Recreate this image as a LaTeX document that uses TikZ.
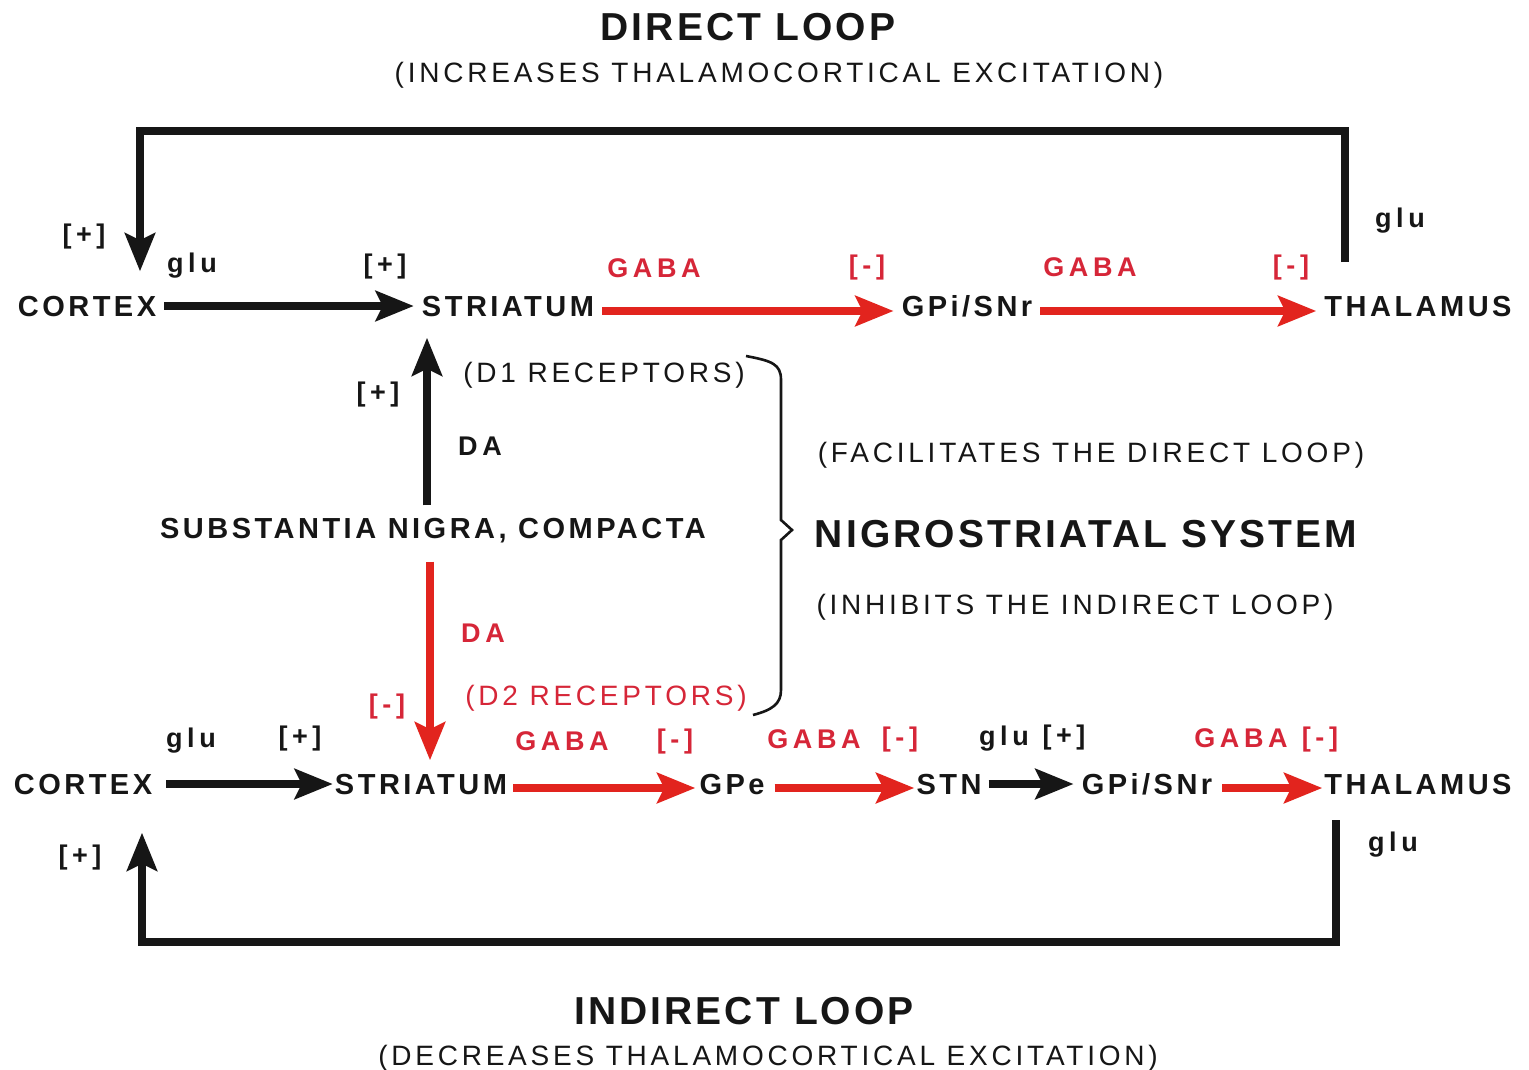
\documentclass[tikz,border=0pt]{standalone}
\usepackage{fontspec}
\setmainfont{Liberation Sans}
\newfontfamily\headfam[LetterSpace=8]{Liberation Sans}
\newfontfamily\remarkfam[LetterSpace=13.5]{Liberation Sans}
\newfontfamily\regionfam[LetterSpace=12]{Liberation Sans}
\newfontfamily\tagfam[LetterSpace=17]{Liberation Sans}
\usetikzlibrary{arrows.meta,calc}

\definecolor{ink}{RGB}{22,22,22}
\definecolor{pathred}{RGB}{226,36,30}
\definecolor{labred}{RGB}{214,38,56}

\tikzset{
  region/.style={inner sep=0pt, text height=21pt, text depth=0pt, text=ink,
    font=\regionfam\bfseries\fontsize{29}{31}\selectfont},
  tag/.style={inner sep=0pt, text height=19pt, text depth=0pt, text=ink,
    font=\tagfam\bfseries\fontsize{27}{29}\selectfont},
  redtag/.style={tag, text=labred},
  heading/.style={inner sep=0pt, text height=28pt, text depth=0pt, text=ink,
    font=\headfam\bfseries\fontsize{39}{42}\selectfont},
  remark/.style={inner sep=0pt, text height=20pt, text depth=0pt, text=ink,
    font=\remarkfam\fontsize{28}{30}\selectfont},
  redremark/.style={remark, text=labred},
  bigtip/.style={-{Stealth[length=38pt,width=30pt,inset=7pt]}},
  excite/.style={bigtip, draw=ink, line width=8pt, shorten <=8pt, shorten >=8pt},
  inhibit/.style={bigtip, draw=pathred, line width=8pt, shorten <=8pt, shorten >=8pt},
  loopline/.style={bigtip, draw=ink, line width=7.5pt, line join=miter}
}

\begin{document}
\begin{tikzpicture}[x=1pt,y=-1pt]
  \path[fill=white] (0,0) rectangle (1529,1070);
  \useasboundingbox (0,0) rectangle (1529,1070);

  % headings
  \node[heading] (dtitle) at (748,27) {DIRECT LOOP};
  \node[remark]  (dsub)   at (779,73) {(INCREASES THALAMOCORTICAL EXCITATION)};
  \node[heading] (ititle) at (744,1010) {INDIRECT LOOP};
  \node[remark]  (isub)   at (768,1055) {(DECREASES THALAMOCORTICAL EXCITATION)};

  % direct loop row
  \node[region] (cortex1) at (87,306)   {CORTEX};
  \node[region] (str1)    at (508,306)  {STRIATUM};
  \node[region] (gpi1)    at (967,306)  {GPi/SNr};
  \node[region] (thal1)   at (1418,306) {THALAMUS};

  \draw[excite]  (cortex1) -- (str1);
  \draw[inhibit] ([yshift=-5pt]str1.east) -- ([yshift=-5pt]gpi1.west);
  \draw[inhibit] ([yshift=-5pt]gpi1.east) -- ([yshift=-5pt]thal1.west);

  \node[tag]    (g1)  at (192,263)  {glu};
  \node[tag]    (p1)  at (385,264)  {[+]};
  \node[redtag] (a1)  at (654,268)  {GABA};
  \node[redtag] (m1)  at (867,265)  {[-]};
  \node[redtag] (a2)  at (1090,267) {GABA};
  \node[redtag] (m2)  at (1291,265) {[-]};

  % direct loop return path
  \coordinate (thalTap) at (1345,262);
  \coordinate (topLeft) at (140,131);
  \draw[loopline, shorten >=24pt] (thalTap) |- (topLeft) -- (topLeft |- cortex1.north);
  \node[tag] (g2) at (1400,218) {glu};
  \node[tag] (p2) at (84,234)   {[+]};

  % indirect loop row
  \node[region] (cortex2) at (83,784)   {CORTEX};
  \node[region] (str2)    at (421,784)  {STRIATUM};
  \node[region] (gpe)     at (732,784)  {GPe};
  \node[region] (stn)     at (949,784)  {STN};
  \node[region] (gpi2)    at (1147,784) {GPi/SNr};
  \node[region] (thal2)   at (1418,784) {THALAMUS};

  \draw[excite, shorten <=14pt, shorten >=2pt] (cortex2) -- (str2);
  \draw[inhibit, shorten <=6pt, shorten >=4pt]
    ([yshift=-4pt]str2.east) -- ([yshift=-4pt]gpe.west);
  \draw[inhibit, shorten <=10pt, shorten >=2pt]
    ([yshift=-4pt]gpe.east) -- ([yshift=-4pt]stn.west);
  \draw[excite, shorten <=7pt, shorten >=8pt] (stn) -- (gpi2);
  \draw[inhibit, shorten <=10pt, shorten >=2pt]
    ([yshift=-4pt]gpi2.east) -- ([yshift=-4pt]thal2.west);

  \node[tag]    (g3) at (191,738)  {glu};
  \node[tag]    (p4) at (300,736)  {[+]};
  \node[redtag] (a3) at (562,741)  {GABA};
  \node[redtag] (m4) at (675,739)  {[-]};
  \node[redtag] (a4) at (814,739)  {GABA};
  \node[redtag] (m5) at (900,737)  {[-]};
  \node[tag]    (g4) at (1004,736) {glu};
  \node[tag]    (p5) at (1064,735) {[+]};
  \node[redtag] (a5) at (1241,738) {GABA};
  \node[redtag] (m6) at (1320,737) {[-]};

  % indirect loop return path
  \coordinate (thalDrop) at (1336,820);
  \coordinate (botLeft)  at (142,942);
  \draw[loopline, shorten >=38pt] (thalDrop) |- (botLeft) -- (botLeft |- cortex2.south);
  \node[tag] (g5) at (1393,842) {glu};
  \node[tag] (p6) at (80,855)   {[+]};

  % substantia nigra
  \node[region] (sn) at (433,528) {SUBSTANTIA NIGRA, COMPACTA};
  \draw[excite, shorten <=12pt, shorten >=21pt]
    ([xshift=-6pt]sn.north) -- ([xshift=-6pt]sn.north |- str1.south);
  \draw[inhibit, shorten <=23pt, shorten >=13pt]
    ([xshift=-3pt]sn.south) -- ([xshift=-3pt]sn.south |- str2.north);

  \node[tag]        (p3)  at (378,392) {[+]};
  \node[tag]        (da1) at (480,446) {DA};
  \node[remark]     (d1)  at (604,372) {(D1 RECEPTORS)};
  \node[redtag]     (da2) at (483,633) {DA};
  \node[redremark]  (d2)  at (606,695) {(D2 RECEPTORS)};
  \node[redtag]     (m3)  at (387,704) {[-]};

  % brace and nigrostriatal notes
  \draw[ink, line width=2.6pt, line join=miter]
    (746,356) .. controls (772,361) and (781,364) .. (781,380)
    -- (781,520) -- (792,530) -- (781,540)
    -- (781,690) .. controls (781,704) and (772,710) .. (753,715);
  \node[remark]  (fac) at (1091,452) {(FACILITATES THE DIRECT LOOP)};
  \node[heading] (ns)  at (1086,533) {NIGROSTRIATAL SYSTEM};
  \node[remark]  (inh) at (1075,604) {(INHIBITS THE INDIRECT LOOP)};
\end{tikzpicture}
\end{document}
